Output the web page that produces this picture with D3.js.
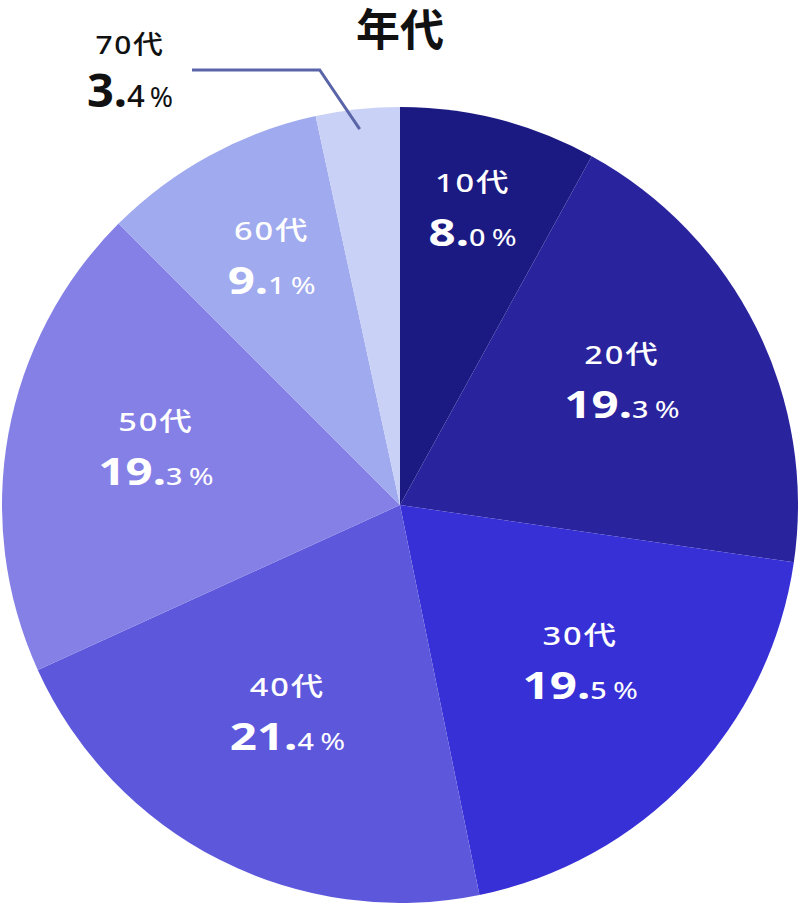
<!DOCTYPE html>
<html><head><meta charset="utf-8">
<script src="https://cdn.jsdelivr.net/npm/d3@7"></script>
<style>
html,body{margin:0;padding:0;background:#fff;}
svg{display:block;}
text{font-family:"Noto Sans CJK JP","Noto Sans",sans-serif;}
text.lbl{font-family:"Noto Sans","Noto Sans CJK JP",sans-serif;}
</style></head>
<body>
<svg id="c" width="800" height="904"></svg>
<script>
const title = "年代";
const categories = ["10代","20代","30代","40代","50代","60代","70代"];
const values = [8.0, 19.3, 19.5, 21.4, 19.3, 9.1, 3.4];
const colors = ["#1b1a82","#29239e","#3630d6","#5d57dc","#8580e6","#a0aaee","#c9d1f6"];

const cx = 400, cy = 505, R = 398;
const svg = d3.select("#c");

svg.append("text").attr("x", 400).attr("y", 46).attr("text-anchor","middle")
  .attr("font-size", 44).attr("font-weight", 700).attr("fill", "#111").text(title);

const data = categories.map((c,i)=>({cat:c, val:values[i], color:colors[i]}));
const pie = d3.pie().value(d=>d.val).sort(null);
const arcs = pie(data);
const arc = d3.arc().innerRadius(0).outerRadius(R);
const g = svg.append("g").attr("transform", `translate(${cx},${cy})`);
g.selectAll("path").data(arcs).join("path").attr("d", arc).attr("fill", d=>d.data.color);

function valueText(sel, d, fill, big, small, pct){
  const s = d.val.toFixed(1).split(".");
  const t = sel.append("text").attr("class","lbl").attr("text-anchor","middle").attr("fill", fill);
  t.append("tspan").attr("font-size", big).attr("font-weight", 700).text(s[0] + ".");
  t.append("tspan").attr("font-size", small).attr("font-weight", 500).text(s[1]);
  t.append("tspan").attr("font-size", pct).attr("font-weight", 400).attr("dx", 5).text("%");
  return t;
}

arcs.filter(a => a.data.val > 5).forEach(a=>{
  const lr = a.data.val < 10 ? 248 + (10 - a.data.val)*22 : 248;
  const m = (a.startAngle + a.endAngle)/2;
  const x = lr*Math.sin(m), y = -lr*Math.cos(m) - 3;
  g.append("g").attr("transform", `translate(${x},${y-27}) scale(1.25,1)`)
    .append("text").attr("class","lbl").attr("text-anchor","middle").attr("font-size", 26).attr("font-weight", 500)
    .attr("letter-spacing", 1.5).attr("fill", "#fff").text(a.data.cat);
  const vg = g.append("g").attr("transform", `translate(${x},${y+27}) scale(1.25,1)`);
  valueText(vg, a.data, "#fff", 38, 23, 24);
});

// outside label for small slice
arcs.filter(a => a.data.val <= 5).forEach(a=>{
  const m = (a.startAngle + a.endAngle)/2;
  const r0 = R - 20;
  const p0 = [r0*Math.sin(m), -r0*Math.cos(m)];
  const p1 = [p0[0] - 40, -435];
  const p2 = [-208, -435];
  g.append("polyline").attr("points", [p0,p1,p2].map(p=>p.join(",")).join(" "))
    .attr("fill","none").attr("stroke","#5a64a8").attr("stroke-width", 3);
  g.append("g").attr("transform", `translate(-270,-451) scale(1.15,1)`)
    .append("text").attr("class","lbl").attr("text-anchor","middle").attr("font-size", 26).attr("font-weight", 500)
    .attr("letter-spacing", 1.5).attr("fill", "#111").text(a.data.cat);
  const vg = g.append("g").attr("transform", `translate(-270,-398)`);
  valueText(vg, a.data, "#111", 47, 31, 28);
});
</script>
</body></html>
